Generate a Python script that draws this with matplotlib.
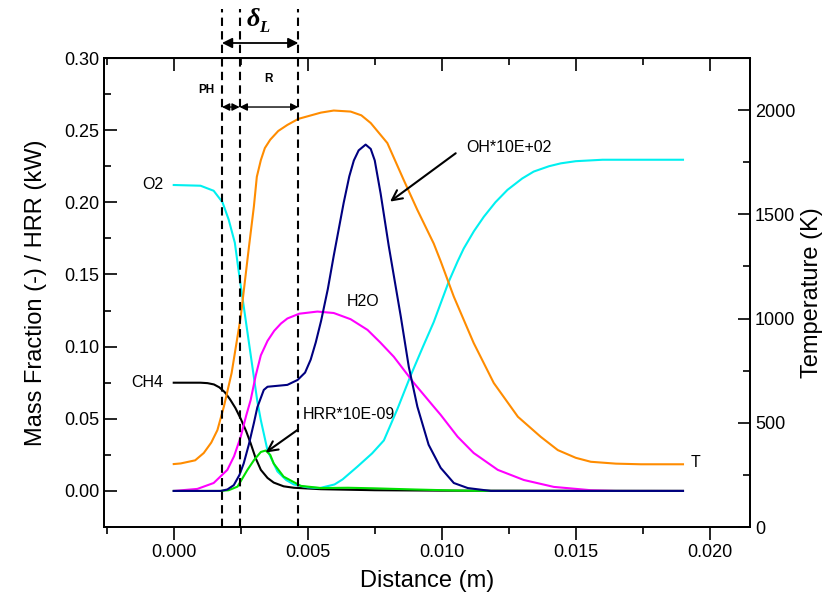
import matplotlib
matplotlib.use("Agg")
import matplotlib.pyplot as plt
import matplotlib.transforms as mtransforms
from matplotlib.ticker import MultipleLocator, FormatStrFormatter

plt.rcParams["font.family"] = ["Liberation Sans", "DejaVu Sans"]

# (distance in m)
x_o2 = [0.0, 0.00100, 0.00149, 0.00182, 0.00205, 0.00228, 0.00244, 0.00275, 0.00312,
        0.00325, 0.00350, 0.00387, 0.00420, 0.00448, 0.00500, 0.00545, 0.00600, 0.00630,
        0.00685, 0.00740, 0.00784, 0.00835, 0.00884, 0.00930, 0.00970, 0.00996, 0.01026,
        0.01059, 0.01082, 0.01120, 0.01157, 0.01200, 0.01245, 0.01300, 0.01343, 0.01400,
        0.01444, 0.01500, 0.01600, 0.0190]
o2 = [0.212, 0.2115, 0.208, 0.200, 0.188, 0.172, 0.150, 0.110, 0.062,
      0.049, 0.028, 0.0135, 0.0075, 0.0045, 0.0025, 0.002, 0.0045, 0.008,
      0.0168, 0.026, 0.035, 0.057, 0.080, 0.100, 0.117, 0.130, 0.145,
      0.159, 0.168, 0.180, 0.190, 0.200, 0.2086, 0.2165, 0.2213, 0.2250,
      0.227, 0.2285, 0.2295, 0.2295]

x_ch4 = [0.0, 0.00100, 0.00126, 0.00150, 0.00170, 0.00190, 0.00210, 0.00230, 0.00250,
         0.00270, 0.00287, 0.00305, 0.00325, 0.00350, 0.00373, 0.00410, 0.00448, 0.00549,
         0.0075, 0.0100, 0.0190]
ch4 = [0.075, 0.075, 0.0747, 0.0738, 0.0718, 0.0685, 0.0635, 0.0575, 0.050,
       0.0415, 0.033, 0.023, 0.0146, 0.0090, 0.0058, 0.0032, 0.0022, 0.0012,
       0.0005, 0.0002, 0.0]

x_h2o = [0.0, 0.00088, 0.00149, 0.00200, 0.00225, 0.00250, 0.00270, 0.00287, 0.00306,
         0.00325, 0.00350, 0.00375, 0.00400, 0.00424, 0.00468, 0.00536, 0.00597, 0.00660,
         0.00723, 0.00770, 0.00821, 0.00896, 0.00970, 0.00996, 0.01059, 0.01119, 0.01209,
         0.01306, 0.01418, 0.01556, 0.0165, 0.0190]
h2o = [0.0, 0.0014, 0.0055, 0.0146, 0.024, 0.0376, 0.052, 0.063, 0.080,
       0.094, 0.104, 0.111, 0.116, 0.1195, 0.1228, 0.1243, 0.1233, 0.119,
       0.1116, 0.103, 0.093, 0.0748, 0.0584, 0.0527, 0.0376, 0.0263, 0.0146,
       0.0076, 0.0028, 0.0005, 0.0, 0.0]

x_hrr = [0.0, 0.00175, 0.00205, 0.00238, 0.00275, 0.00300, 0.00325, 0.00343, 0.00360,
         0.00373, 0.00410, 0.00474, 0.0055, 0.0065, 0.0075, 0.0090, 0.0105, 0.0118, 0.0190]
hrr = [0.0, 0.0, 0.0005, 0.003, 0.0146, 0.0215, 0.027, 0.028, 0.025,
       0.019, 0.0099, 0.0035, 0.002, 0.0022, 0.0018, 0.001, 0.0003, 0.0, 0.0]

x_oh = [0.0, 0.00175, 0.00200, 0.00224, 0.00245, 0.00261, 0.00280, 0.00299, 0.00312,
        0.00336, 0.00350, 0.00424, 0.00462, 0.00490, 0.00511, 0.00530, 0.00550, 0.00575,
        0.00597, 0.00634, 0.00655, 0.00672, 0.00690, 0.00716, 0.00735, 0.00750, 0.00772,
        0.00802, 0.00847, 0.00877, 0.00909, 0.00951, 0.00996, 0.01045, 0.01097, 0.01183,
        0.0190]
oh = [0.0, 0.0, 0.001, 0.004, 0.011, 0.019, 0.032, 0.047, 0.058,
      0.070, 0.0722, 0.0735, 0.0769, 0.082, 0.091, 0.103, 0.118, 0.140,
      0.163, 0.1996, 0.218, 0.229, 0.236, 0.240, 0.237, 0.229, 0.206,
      0.170, 0.121, 0.086, 0.0584, 0.032, 0.016, 0.0055, 0.002, 0.0,
      0.0]

x_t = [0.0, 0.00026, 0.00080, 0.00112, 0.00140, 0.00163, 0.00187, 0.00216, 0.00250,
       0.00280, 0.00299, 0.00310, 0.00325, 0.00340, 0.00360, 0.00390, 0.00424, 0.00465,
       0.00549, 0.00597, 0.00660, 0.00700, 0.00735, 0.00797, 0.00858, 0.00909, 0.00970,
       0.00996, 0.01045, 0.01119, 0.01194, 0.01284, 0.01369, 0.01433, 0.01500, 0.01556,
       0.01650, 0.01743, 0.0190]
temp = [302, 305, 320, 355, 405, 465, 577, 739, 1009,
        1337, 1537, 1680, 1760, 1818, 1858, 1900, 1929, 1958,
        1988, 1998, 1993, 1975, 1938, 1842, 1665, 1521, 1360,
        1275, 1105, 883, 691, 529, 433, 369, 332, 313,
        304, 301, 301]

# preheat / reaction zone boundaries
zone_edges = [0.0018, 0.00246, 0.00465]


def main():
    fig = plt.figure(figsize=(8.35, 5.98), dpi=100)
    ax = fig.add_axes([0.1246, 0.1187, 0.7736, 0.7843])
    ax2 = ax.twinx()

    lw = 1.5
    ax.plot(x_ch4, ch4, color="black", lw=lw)
    ax.plot(x_o2, o2, color="#00F0F0", lw=lw)
    ax.plot(x_h2o, h2o, color="#FF00FF", lw=lw)
    ax.plot(x_hrr, hrr, color="#00E000", lw=lw)
    ax.plot(x_oh, oh, color="#000080", lw=lw)
    ax2.plot(x_t, temp, color="#FF8C00", lw=lw)

    ax.set_xlim(-0.0026, 0.0215)
    ax.set_ylim(-0.025, 0.30)
    ax2.set_ylim(0, 2250)

    ax.xaxis.set_major_locator(MultipleLocator(0.005))
    ax.xaxis.set_minor_locator(MultipleLocator(0.0025))
    ax.xaxis.set_major_formatter(FormatStrFormatter("%.3f"))
    ax.yaxis.set_major_locator(MultipleLocator(0.05))
    ax.yaxis.set_minor_locator(MultipleLocator(0.025))
    ax.yaxis.set_major_formatter(FormatStrFormatter("%.2f"))
    ax2.yaxis.set_major_locator(MultipleLocator(500))
    ax2.yaxis.set_minor_locator(MultipleLocator(250))

    ax.tick_params(axis="x", which="both", direction="out", top=False, labelsize=13)
    ax.tick_params(axis="y", which="both", direction="in", right=False, labelsize=13)
    ax2.tick_params(axis="y", which="both", direction="in", labelsize=13)
    for a in (ax, ax2):
        a.tick_params(which="major", length=9, width=1.2)
        a.tick_params(which="minor", length=5, width=1.2)
        for s in a.spines.values():
            s.set_linewidth(1.3)

    top = ax.secondary_xaxis("top")
    top.xaxis.set_major_locator(MultipleLocator(0.005))
    top.xaxis.set_minor_locator(MultipleLocator(0.0025))
    top.tick_params(which="both", direction="in", labeltop=False, width=1.2)
    top.tick_params(which="major", length=9)
    top.tick_params(which="minor", length=5)

    ax.set_xlabel("Distance (m)", fontsize=17, labelpad=6)
    ax.set_ylabel("Mass Fraction (-) / HRR (kW)", fontsize=17, labelpad=12)
    ax2.set_ylabel("Temperature (K)", fontsize=17, labelpad=4)

    # zone boundaries and arrows
    blend = mtransforms.blended_transform_factory(ax.transData, ax.transAxes)
    for xe in zone_edges:
        ax2.plot([xe, xe], [0, 1.105], transform=blend, color="black", lw=1.5,
                 dashes=(4, 2.5), clip_on=False)
    arrow_big = dict(arrowstyle="<|-|>", color="black", lw=1.3,
                     mutation_scale=15, shrinkA=0, shrinkB=0)
    arrow_small = dict(arrowstyle="<|-|>", color="black", lw=1.0,
                       mutation_scale=11, shrinkA=0, shrinkB=0)
    ax2.annotate("", xy=(zone_edges[0], 1.032), xytext=(zone_edges[2], 1.032),
                 xycoords=blend, textcoords=blend, arrowprops=arrow_big,
                 annotation_clip=False)
    ax2.annotate("", xy=(zone_edges[0], 0.8955), xytext=(zone_edges[1], 0.8955),
                 xycoords=blend, textcoords=blend, arrowprops=arrow_small,
                 annotation_clip=False)
    ax2.annotate("", xy=(zone_edges[1], 0.8955), xytext=(zone_edges[2], 0.8955),
                 xycoords=blend, textcoords=blend, arrowprops=arrow_small,
                 annotation_clip=False)
    ax2.text(0.00298, 1.083, "δ", transform=blend, ha="center", va="center",
             fontsize=19, family="Liberation Serif", fontweight="bold",
             style="italic", clip_on=False)
    ax2.text(0.00337, 1.065, "L", transform=blend, ha="center", va="center",
             fontsize=12, family="Liberation Serif", fontweight="bold",
             style="italic", clip_on=False)
    ax2.text(0.0012, 0.2775, "PH", transform=ax.transData, ha="center", va="center",
             fontsize=8.5, fontweight="bold")
    ax2.text(0.00354, 0.2855, "R", transform=ax.transData, ha="center", va="center",
             fontsize=8.5, fontweight="bold")

    # curve labels
    fs = 11.5
    ax.text(-0.0004, o2[0], "O2", ha="right", va="center", fontsize=fs)
    ax.text(-0.0004, ch4[0], "CH4", ha="right", va="center", fontsize=fs)
    ax.text(0.00705, 0.131, "H2O", ha="center", va="center", fontsize=fs)
    ax2.text(0.0193, temp[-1] + 10, "T", ha="left", va="center", fontsize=fs)
    arr = dict(arrowstyle="->", color="black", lw=1.5, mutation_scale=18,
               shrinkA=0, shrinkB=0)
    ax2.text(0.0109, 0.238, "OH*10E+02", transform=ax.transData,
             ha="left", va="center", fontsize=fs)
    ax2.annotate("", xy=(0.00807, 0.2005), xytext=(0.01052, 0.234),
                 xycoords=ax.transData, textcoords=ax.transData, arrowprops=arr)
    ax2.text(0.0048, 0.0527, "HRR*10E-09", transform=ax.transData,
             ha="left", va="center", fontsize=fs)
    ax2.annotate("", xy=(0.00343, 0.0266), xytext=(0.00462, 0.0423),
                 xycoords=ax.transData, textcoords=ax.transData, arrowprops=arr)

    fig.savefig("out.png", dpi=100)


if __name__ == "__main__":
    main()
